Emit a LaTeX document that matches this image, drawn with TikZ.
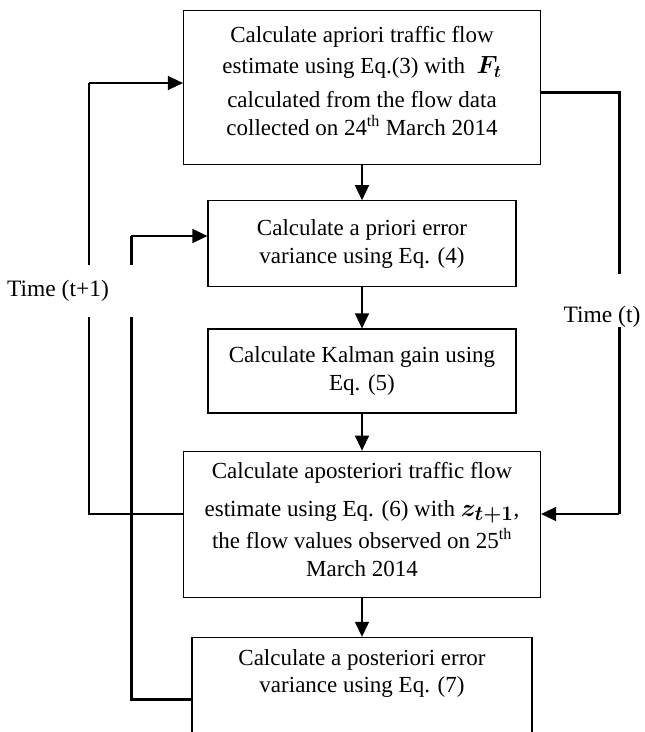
\documentclass[tikz,border=0pt]{standalone}
\usepackage{fontspec}
\setmainfont{Liberation Serif}
\usepackage{amsmath}
\usetikzlibrary{arrows.meta,positioning}
\tikzset{
  box/.style={draw=black, line width=1.2pt, align=center, inner sep=6pt, font=\fontsize{23}{27.6}\selectfont},
  arrow/.style={-{Triangle[length=15pt,width=14pt]}, line width=1.4pt},
  loopline/.style={line width=1.9pt},
  heavyline/.style={line width=3pt},
  timelabel/.style={inner sep=0pt, font=\fontsize{23.5}{28}\selectfont}
}

\begin{document}
\begin{tikzpicture}[x=1pt, y=-1pt]
  \clip (0,0) rectangle (645,732);
  \fill[white] (0,0) rectangle (645,732);

  % main chain
  \node[box, anchor=north, minimum width=357pt, minimum height=154pt, text depth=14pt] (apriori) at (362,10) {
    Calculate apriori traffic flow\\[4pt]
    estimate using Eq.(3) with\ \ {\fontsize{27}{27}\selectfont$\boldsymbol{F_t}$}\\[6pt]
    calculated from the flow data\\
    collected on 24\textsuperscript{th} March 2014
  };
  \node[box, below=35pt of apriori, minimum width=308pt, minimum height=86pt] (pvar) {Calculate a priori error\\variance using Eq. (4)};
  \node[box, below=41pt of pvar, minimum width=308pt, minimum height=84pt] (gain) {Calculate Kalman gain using\\Eq. (5)};
  \node[box, below=37pt of gain, minimum width=357pt, minimum height=146pt, text depth=10pt] (apost) {
    Calculate aposteriori traffic flow\\[10pt]
    estimate using Eq. (6) with {\fontsize{28}{28}\selectfont$\boldsymbol{z_{t+1}}$},\\[5pt]
    the flow values observed on 25\textsuperscript{th}\\
    March 2014
  };
  \node[box, below=39pt of apost, minimum width=340pt, text height=49pt, text depth=120pt, font=\fontsize{23}{26.5}\selectfont] (postvar) {Calculate a posteriori error\\variance using Eq. (7)};
  \draw[arrow] (apriori) -- (pvar);
  \draw[arrow] (pvar) -- (gain);
  \draw[arrow] (gain) -- (apost);
  \draw[arrow] (apost) -- (postvar);

  \node[timelabel] (tnext) at (58,291) {Time (t+1)};
  \node[timelabel] (tnow) at (602,317) {Time (t)};

  % outer loop, time (t+1)
  \coordinate (outerbot) at (89,514);
  \coordinate (outergapb) at (89,317);
  \coordinate (outergapt) at (89,265);
  \coordinate (outertop) at (89,83);
  \draw[loopline] (outerbot -| apost.west) -- (outerbot) -- (outergapb);
  \draw[loopline] (outergapt) -- (outertop);
  \draw[arrow] (outertop) -- (outertop -| apriori.west);

  % inner loop
  \coordinate (innerbot) at (131,699);
  \coordinate (innergapb) at (131,317);
  \coordinate (innergapt) at (131,265);
  \coordinate (innertop) at (131,236);
  \draw[heavyline] (innerbot -| postvar.west) -- (innerbot) -- (innergapb);
  \draw[heavyline] (innergapt) -- (innertop);
  \draw[arrow] (innertop) -- (innertop -| pvar.west);

  % right loop, time (t)
  \coordinate (righttop) at (619,92);
  \coordinate (rightgapt) at (619,274);
  \coordinate (rightgapb) at (619,327);
  \coordinate (rightbot) at (619,514);
  \draw[heavyline] (righttop -| apriori.east) -- (righttop) -- (rightgapt);
  \draw[heavyline] (rightgapb) -- (rightbot);
  \draw[arrow] (rightbot) -- (rightbot -| apost.east);
\end{tikzpicture}
\end{document}
